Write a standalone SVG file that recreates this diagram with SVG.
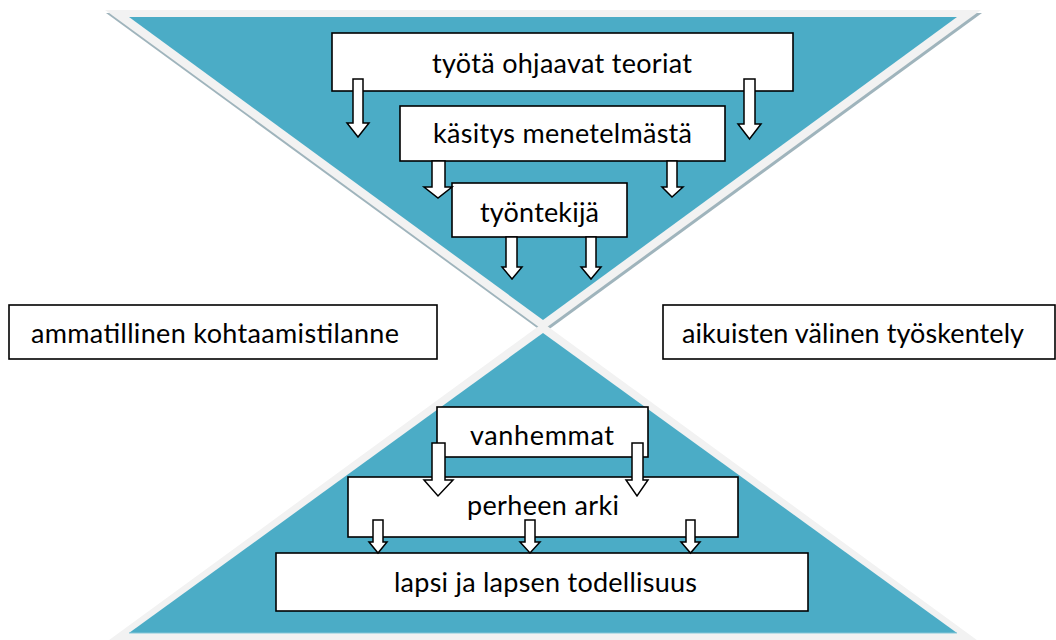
<svg xmlns="http://www.w3.org/2000/svg" width="1056" height="640" viewBox="0 0 1056 640">
<defs>
<style>
.box{fill:#fff;stroke:#000;stroke-width:1.6}
.arr{fill:#fff;stroke:#000;stroke-width:1.5;stroke-linejoin:miter}
.t{font-family:Lato,"Liberation Sans",sans-serif;font-size:27px;fill:#000;text-anchor:middle}
.teal{fill:#4bacc6}
.band{fill:#f2f2f2}
.shadow{fill:#9fb4bc}
</style>
</defs>
<rect width="1056" height="640" fill="#fff"/>
<g id="background">
<polygon class="shadow" points="106,13 982,13 544,333"/>
<polygon class="band" points="105,10 981,10 543,330"/>
<polygon class="teal" points="129,17 957,17 543,320"/>
<polygon class="band" points="543,323 105,643 981,643"/>
<polygon class="teal" points="543,333 129,633 957,633"/>
<line x1="129" y1="633" x2="957" y2="633" stroke="#86c7d8" stroke-width="1"/>
</g>
<g id="n1"><rect class="box" x="332" y="33" width="461" height="58"/><text class="t" x="562" y="73" textLength="260" lengthAdjust="spacing">työtä ohjaavat teoriat</text></g>
<g id="n2"><rect class="box" x="400" y="106" width="325" height="55"/><text class="t" x="562.5" y="143" textLength="259" lengthAdjust="spacing">käsitys menetelmästä</text></g>
<g id="n3"><rect class="box" x="452" y="183" width="175" height="54"/><text class="t" x="539.5" y="222" textLength="119" lengthAdjust="spacing">työntekijä</text></g>
<g id="n4"><rect class="box" x="9" y="305" width="428" height="54"/><text class="t" x="215" y="343" textLength="368" lengthAdjust="spacing">ammatillinen kohtaamistilanne</text></g>
<g id="n5"><rect class="box" x="663" y="305" width="392" height="54"/><text class="t" x="853" y="343" textLength="342" lengthAdjust="spacing">aikuisten välinen työskentely</text></g>
<g id="n6"><rect class="box" x="437" y="407" width="211" height="50"/><text class="t" x="542" y="445" textLength="144" lengthAdjust="spacing">vanhemmat</text></g>
<g id="n7"><rect class="box" x="348" y="477" width="390" height="60"/><text class="t" x="543" y="515" textLength="152" lengthAdjust="spacing">perheen arki</text></g>
<g id="n8"><rect class="box" x="276" y="553" width="532" height="58"/><text class="t" x="545.5" y="592" textLength="303" lengthAdjust="spacing">lapsi ja lapsen todellisuus</text></g>
<g id="connectors">
<polygon class="arr" points="353,79 363,79 363,123 369,123 358,137 347,123 353,123"/>
<polygon class="arr" points="744,79 755,79 755,124 761,124 749.5,139 738,124 744,124"/>
<polygon class="arr" points="432,161 445,161 445,187 452,187 438,198 424,187 432,187"/>
<polygon class="arr" points="667,161 677,161 677,187 683,187 672,197 662,187 667,187"/>
<polygon class="arr" points="506,237 517,237 517,267 522,267 512,279 502,267 506,267"/>
<polygon class="arr" points="586,237 596,237 596,267 601,267 591,279 581,267 586,267"/>
<polygon class="arr" points="432,443 445,443 445,480 453,480 438,496 424,480 432,480"/>
<polygon class="arr" points="632,443 643,443 643,480 648,480 637,496 626,480 632,480"/>
<polygon class="arr" points="373,520 383,520 383,542 387,542 378,553 369,542 373,542"/>
<polygon class="arr" points="525,520 535,520 535,542 540,542 530,553 520,542 525,542"/>
<polygon class="arr" points="686,520 695,520 695,542 700,542 690.5,553 681,542 686,542"/>
</g>
</svg>
